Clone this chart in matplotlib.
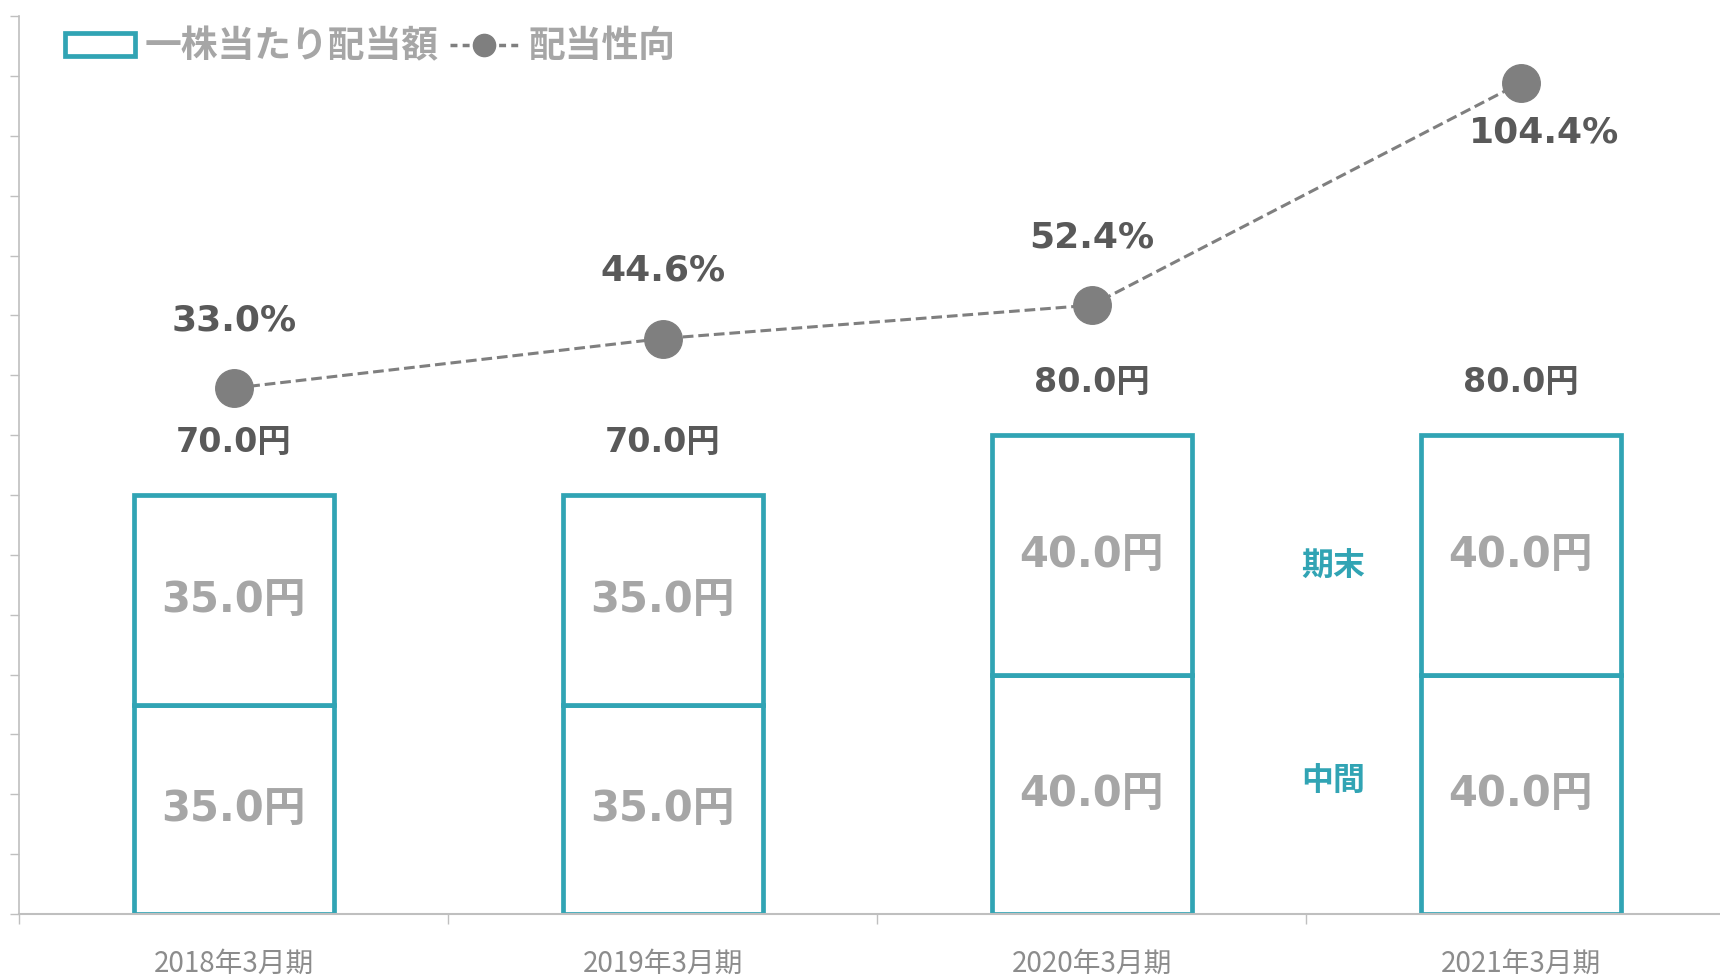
import numpy as np
import matplotlib.pyplot as plt
from matplotlib.lines import Line2D
from matplotlib.patches import Patch

# data
categories = ['2018年3月期', '2019年3月期', '2020年3月期', '2021年3月期']
interim = [35.0, 35.0, 40.0, 40.0]     # 中間
year_end = [35.0, 35.0, 40.0, 40.0]    # 期末
total = [70.0, 70.0, 80.0, 80.0]
payout = [33.0, 44.6, 52.4, 104.4]     # 配当性向 (%)

TEAL = '#31a4b4'
DARK = '#595959'
LIGHT = '#a6a6a6'
MARK = '#7f7f7f'
SPINE = '#bfbfbf'
NUM_FONT = ['DejaVu Sans', 'Noto Sans CJK JP']
JP_FONT = ['Noto Sans CJK JP', 'DejaVu Sans']

fig = plt.figure(figsize=(17.2, 9.76), dpi=100)
ax = fig.add_axes([0.0112, 0.0635, 0.9977, 0.920])

x = np.arange(len(categories))
w = 0.466
ax.bar(x, interim, width=w, color='white', edgecolor=TEAL, linewidth=3.4, zorder=2)
ax.bar(x, year_end, width=w, bottom=interim, color='white', edgecolor=TEAL,
       linewidth=3.4, zorder=2)

for i in range(len(x)):
    ax.text(x[i], interim[i] / 2, f'{interim[i]:.1f}円', ha='center', va='center',
            fontsize=30, fontweight='bold', color=LIGHT, family=NUM_FONT, zorder=3)
    ax.text(x[i], interim[i] + year_end[i] / 2, f'{year_end[i]:.1f}円', ha='center',
            va='center', fontsize=30, fontweight='bold', color=LIGHT,
            family=NUM_FONT, zorder=3)
    ax.annotate(f'{total[i]:.1f}円', (x[i], total[i]), xytext=(0, 38),
                textcoords='offset points', ha='center', va='center',
                fontsize=24, fontweight='bold', color=DARK, family=NUM_FONT)

# 期末 / 中間 labels between the last two bars
ax.text(2.563, 58, '期末', ha='center', va='center', fontsize=23,
        fontweight='bold', color=TEAL, family=JP_FONT)
ax.text(2.563, 22, '中間', ha='center', va='center', fontsize=23,
        fontweight='bold', color=TEAL, family=JP_FONT)

ax.set_xlim(-0.5, 3.5)
ax.set_ylim(0, 150)
ax.set_yticks(np.arange(0, 151, 10))
ax.set_yticklabels([])
ax.tick_params(axis='y', direction='out', length=6.5, width=1, color=SPINE)
ax.set_xticks(x)
ax.set_xticklabels(categories, family=JP_FONT, fontsize=20, color='#8c8c8c')
ax.set_xticks(np.arange(-0.5, 4.0, 1.0), minor=True)
ax.tick_params(axis='x', which='major', length=0, pad=25)
ax.tick_params(axis='x', which='minor', direction='out', length=7, width=1, color=SPINE)
for s in ['top', 'right']:
    ax.spines[s].set_visible(False)
ax.spines['left'].set_color(SPINE)
ax.spines['bottom'].set_color(SPINE)
ax.spines['left'].set_linewidth(1.2)
ax.spines['bottom'].set_linewidth(1.5)

# payout ratio on a hidden secondary axis
ax2 = ax.twinx()
ax2.set_ylim(-90, 120)
ax2.plot(x, payout, color=MARK, linestyle='--', dashes=(3.5, 1.6), linewidth=2.2,
         marker='o', markersize=27, zorder=4)
ax2.axis('off')
for i in range(len(x)):
    if i == len(x) - 1:
        off = (17, -36)
    else:
        off = (0, 49)
    ax2.annotate(f'{payout[i]:.1f}%', (x[i], payout[i]), xytext=off,
                 textcoords='offset points', ha='center', va='center',
                 fontsize=26, fontweight='bold', color=DARK, family=NUM_FONT)

handles = [Patch(facecolor='white', edgecolor=TEAL, linewidth=3.4),
           Line2D([], [], color=MARK, linestyle='--', dashes=(2, 1.5), linewidth=2.5,
                  marker='o', markersize=16)]
fig.legend(handles, ['一株当たり配当額', '配当性向'], loc='center left',
           bbox_to_anchor=(0.038, 0.952), ncol=2, frameon=False, borderpad=0,
           borderaxespad=0, handlelength=1.9, handleheight=0.6, handletextpad=0.25,
           columnspacing=0.3, labelcolor=LIGHT,
           prop=dict(family=JP_FONT, weight='bold', size=26.5))

fig.savefig('out.png', dpi=100)
